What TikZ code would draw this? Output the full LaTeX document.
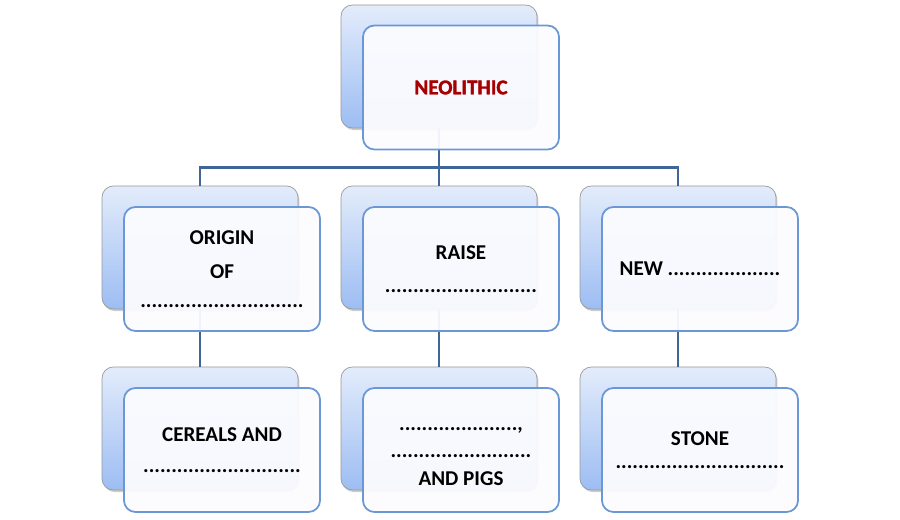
\documentclass[tikz,border=0pt]{standalone}
\usepackage{fontspec}
\setmainfont{Carlito}
\newfontfamily\heavyfont{Carlito Bold}[FakeBold=1.6]
\usetikzlibrary{shadows}
\definecolor{linkblue}{HTML}{3F6599}
\definecolor{backtop}{HTML}{E3ECFB}
\definecolor{backbot}{HTML}{9DBDF3}
\definecolor{frontline}{HTML}{6A98D6}
\definecolor{titlered}{HTML}{A80000}
\begin{document}
\begin{tikzpicture}[font=\fontsize{12}{14.5}\selectfont\bfseries,
  back/.style = {draw=gray!80, rounded corners=6.5pt, inner sep=0pt, minimum width=3.92cm, minimum height=2.46cm, top color=backtop, bottom color=backbot, drop shadow={shadow xshift=0.8pt, shadow yshift=-1.2pt, opacity=0.4}},
  front/.style = {draw=frontline, line width=1pt, rounded corners=6.5pt, inner sep=0pt, minimum width=3.92cm, minimum height=2.48cm, fill=blue!1, fill opacity=0.94, text opacity=1, align=center},
  link/.style = {draw=linkblue, line width=1.7pt}]
  \useasboundingbox (0,0) rectangle (18,10.4);
  % back cards
  \node[back] (b1) at (8.78,9.07) {};
  \node[back] (b2) at (4.00,5.45) {};
  \node[back] (b3) at (8.78,5.45) {};
  \node[back] (b4) at (13.56,5.45) {};
  \node[back] (b5) at (4.00,1.83) {};
  \node[back] (b6) at (8.78,1.83) {};
  \node[back] (b7) at (13.56,1.83) {};
  % connectors
  \coordinate (bar) at (8.78,7.04);
  \draw[link] (b1.south) -- (bar) -| (b2.north);
  \draw[link] (bar) -| (b3.north);
  \draw[link] (bar) -| (b4.north);
  \draw[link] (b2.south) -- (b5.north);
  \draw[link] (b3.south) -- (b6.north);
  \draw[link] (b4.south) -- (b7.north);
  % front cards
  \node[front, text=titlered, font=\fontsize{12}{14.5}\heavyfont] (f1) at (9.22,8.65) {NEOLITHIC};
  \node[front] (f2) at (4.44,5.02) {ORIGIN\\[4.8pt] OF\\[1.8pt] .............................};
  \node[front] (f3) at (9.22,5.02) {RAISE\\[4.6pt] ...........................};
  \node[front] (f4) at (14.00,5.02) {NEW ....................};
  \node[front] (f5) at (4.44,1.40) {CEREALS AND\\[3.5pt] ............................};
  \node[front] (f6) at (9.22,1.40) {\rule{0pt}{9pt}.....................,\\[0.8pt] .........................\\[1.6pt] AND PIGS};
  \node[front] (f7) at (14.00,1.40) {STONE\\[-1.4pt] ..............................};
\end{tikzpicture}
\end{document}
